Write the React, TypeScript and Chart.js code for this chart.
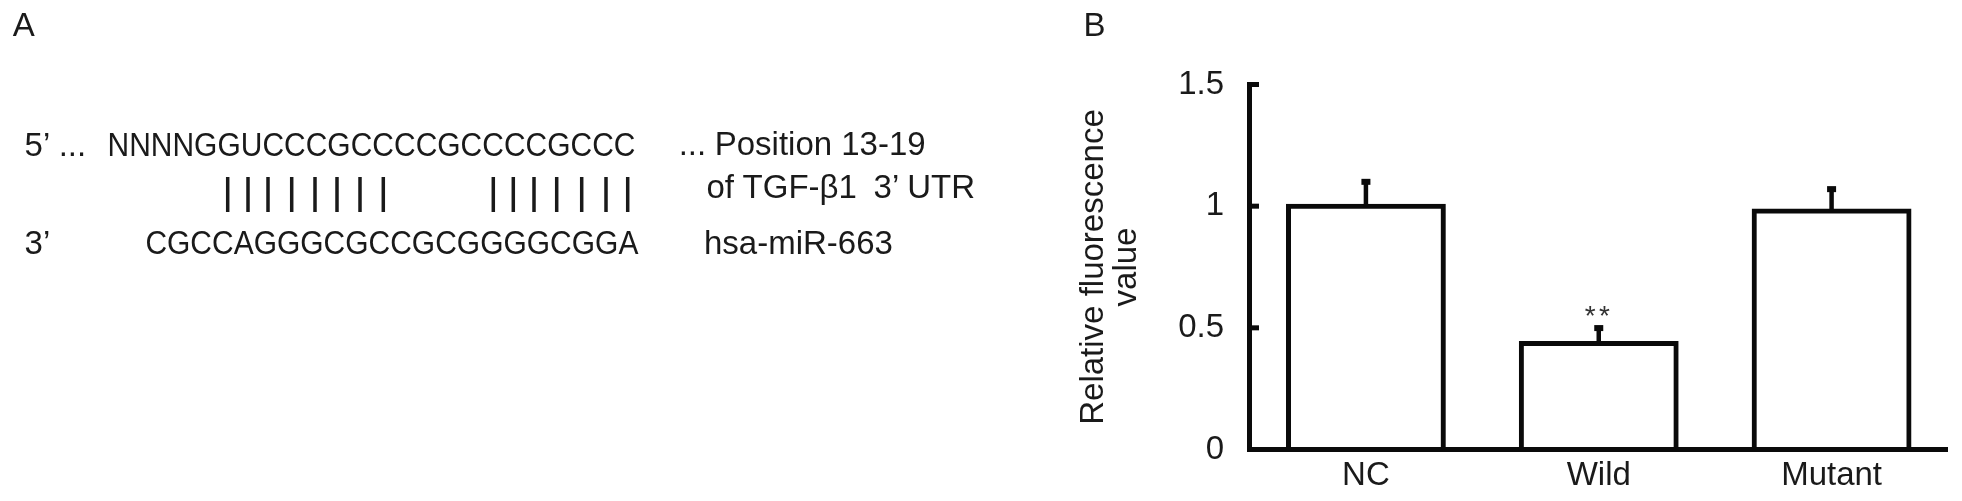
import React, { useEffect, useRef } from 'react';
import { Chart, registerables } from 'chart.js';

Chart.register(...registerables);

// ---------- Panel B data ----------
const categories = ['NC', 'Wild', 'Mutant'];
const meanValues = [1.0, 0.436, 0.98];
const errorValues = [0.1, 0.063, 0.09];
const significance = ['', '**', ''];
const yTickValues = [0, 0.5, 1, 1.5];
const yTickLabels = ['0', '0.5', '1', '1.5'];
const yAxisTitle = ['Relative fluorescence', 'value'];

// ---------- Panel A content ----------
const seqTop = 'NNNNGGUCCCGCCCCGCCCCGCCC';
const seqBottom = 'CGCCAGGGCGCCGCGGGGCGGA';
const pairX = [227.7, 248, 268, 291.7, 315, 337, 360, 383.3, 493.3, 513.3, 534, 556.7, 581.7, 606, 627.7];

const FONT = "'Liberation Sans', Arial, Helvetica, sans-serif";
const TEXT = '#1a1a1a';
const INK = '#0a0a0a';

const excelAxesPlugin = {
  id: 'excelAxes',
  afterDatasetsDraw(chart: any) {
    const { ctx, chartArea, scales } = chart;
    const xs = scales.x;
    const ys = scales.y;
    const left = chartArea.left;
    const y0 = ys.getPixelForValue(0);
    const yTop = ys.getPixelForValue(yTickValues[yTickValues.length - 1]);
    ctx.save();
    ctx.strokeStyle = INK;
    ctx.fillStyle = INK;
    ctx.lineCap = 'butt';
    // error bars (upper only) + significance marks
    meanValues.forEach((v, i) => {
      const cx = xs.getPixelForValue(i);
      const yb = ys.getPixelForValue(v);
      const ye = ys.getPixelForValue(v + errorValues[i]);
      ctx.lineWidth = 4.5;
      ctx.beginPath();
      ctx.moveTo(cx, yb);
      ctx.lineTo(cx, ye);
      ctx.stroke();
      ctx.fillRect(cx - 4.5, ye - 3, 9, 6);
      const sig = significance[i];
      if (sig) {
        ctx.save();
        ctx.fillStyle = '#333';
        ctx.font = `28px ${FONT}`;
        ctx.textAlign = 'center';
        ctx.textBaseline = 'alphabetic';
        const n = sig.length;
        for (let k = 0; k < n; k++) {
          ctx.fillText(sig[k], cx - 1.5 + (k - (n - 1) / 2) * 14.3, ye - 3);
        }
        ctx.restore();
      }
    });
    // axes
    ctx.lineWidth = 5;
    ctx.beginPath();
    ctx.moveTo(left, yTop - 2.5);
    ctx.lineTo(left, y0);
    ctx.stroke();
    ctx.beginPath();
    ctx.moveTo(left - 2.5, y0);
    ctx.lineTo(chartArea.right, y0);
    ctx.stroke();
    // inward tick marks
    yTickValues.forEach((t) => {
      const py = ys.getPixelForValue(t);
      ctx.beginPath();
      ctx.moveTo(left, py);
      ctx.lineTo(left + 9.5, py);
      ctx.stroke();
    });
    ctx.restore();
  },
};

export default function App() {
  const canvasRef = useRef<HTMLCanvasElement | null>(null);

  useEffect(() => {
    document.body.style.margin = '0';
    const canvas = canvasRef.current;
    if (!canvas) return;
    const tickFont = { family: FONT, size: 33, lineHeight: 1 };
    const chart = new Chart(canvas, {
      type: 'bar',
      data: {
        labels: categories,
        datasets: [
          {
            data: meanValues,
            backgroundColor: '#ffffff',
            borderColor: INK,
            borderWidth: 5,
            inflateAmount: 2.5,
            barPercentage: 0.665,
            categoryPercentage: 1,
          } as any,
        ],
      },
      options: {
        responsive: false,
        animation: false,
        devicePixelRatio: 1,
        events: [],
        layout: { padding: { left: 1070, top: 84.5, right: 14, bottom: 11.5 } },
        plugins: {
          legend: { display: false },
          tooltip: { enabled: false },
        },
        scales: {
          x: {
            type: 'category',
            offset: true,
            grid: { display: false, drawTicks: false },
            border: { display: false },
            ticks: {
              color: TEXT,
              font: tickFont,
              padding: 10,
              maxRotation: 0,
              minRotation: 0,
              autoSkip: false,
            },
            afterFit: (s: any) => {
              s.height = 40;
            },
          },
          y: {
            type: 'linear',
            min: 0,
            max: 1.5,
            grid: { display: false, drawTicks: false },
            border: { display: false },
            afterBuildTicks: (s: any) => {
              s.ticks = yTickValues.map((v) => ({ value: v }));
            },
            ticks: {
              color: TEXT,
              font: tickFont,
              padding: 25.5,
              autoSkip: false,
              callback: (value: any) => {
                const idx = yTickValues.indexOf(Number(value));
                return idx >= 0 ? yTickLabels[idx] : '';
              },
            },
            title: {
              display: true,
              text: yAxisTitle,
              color: TEXT,
              font: { family: FONT, size: 33, lineHeight: 1 },
              padding: { top: 7.5, bottom: 0 },
            },
            afterFit: (s: any) => {
              s.width = 179.5;
            },
          },
        },
      } as any,
      plugins: [excelAxesPlugin],
    });
    return () => chart.destroy();
  }, []);

  return (
    <div
      style={{
        position: 'absolute',
        left: 0,
        top: 0,
        width: 1962,
        height: 501,
        background: '#ffffff',
        overflow: 'hidden',
      }}
    >
      <canvas
        ref={canvasRef}
        width={1962}
        height={501}
        style={{ position: 'absolute', left: 0, top: 0, width: 1962, height: 501 }}
      />
      <svg
        width={1962}
        height={501}
        style={{ position: 'absolute', left: 0, top: 0, pointerEvents: 'none' }}
        fontFamily={FONT}
        fontSize={33}
        fill={TEXT}
      >
        <text x={12.7} y={36}>A</text>
        <text x={1083.5} y={36}>B</text>
        <text x={24.6} y={156}>5’</text>
        <text x={58.7} y={156}>...</text>
        <text x={107.5} y={156} textLength={528} lengthAdjust="spacingAndGlyphs">
          {seqTop}
        </text>
        {pairX.map((x, i) => (
          <line key={i} x1={x} x2={x} y1={177} y2={212} stroke={TEXT} strokeWidth={3.5} />
        ))}
        <text x={24.6} y={254}>3’</text>
        <text x={145.4} y={254} textLength={493} lengthAdjust="spacingAndGlyphs">
          {seqBottom}
        </text>
        <text x={678.7} y={155}>...</text>
        <text x={714.7} y={155}>Position 13-19</text>
        <text x={706.5} y={198}>of TGF-β1</text>
        <text x={873.6} y={198}>3’ UTR</text>
        <text x={704} y={254}>hsa-miR-663</text>
      </svg>
    </div>
  );
}
